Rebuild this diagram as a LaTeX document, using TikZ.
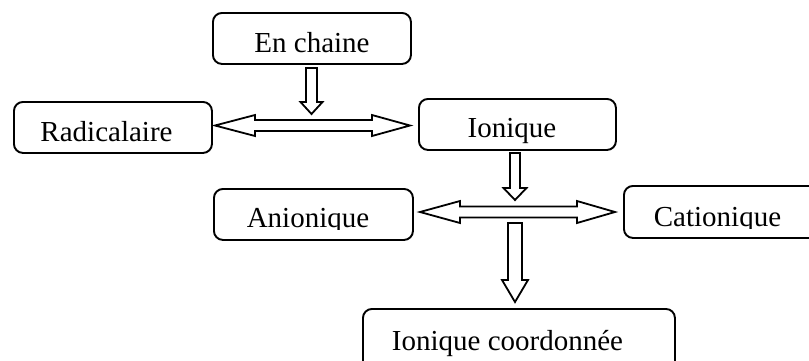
\documentclass[tikz,border=0pt]{standalone}
\usepackage{fontspec}
\setmainfont{Liberation Serif}
\begin{document}
\begin{tikzpicture}[x=1pt,y=-1pt,
  box/.style={draw, line width=1.9pt, rounded corners=9pt, inner sep=0pt, anchor=north west},
  lbl/.style={anchor=base, inner sep=0pt, font=\fontsize{29}{34}\selectfont},
  blockarrow/.style={draw, line width=1.8pt, fill=white, line join=miter}]
\useasboundingbox (0,0) rectangle (809,360);
\clip (0,0) rectangle (809,360);

% boxes
\node[box, minimum width=198pt, minimum height=51pt] (chaine) at (212,12) {};
\node[box, minimum width=198pt, minimum height=51pt] (radical) at (13,101) {};
\node[box, minimum width=197pt, minimum height=51pt] (ionique) at (418,98) {};
\node[box, minimum width=199pt, minimum height=51pt] (anion) at (213,188) {};
\node[box, minimum width=220pt, minimum height=52pt] (cation) at (623,185) {};
\node[box, minimum width=312pt, minimum height=75pt] (coord) at (362,308) {};

% labels
\node[lbl] (tchaine) at (312,52) {En chaine};
\node[lbl] (tradical) at (106.5,141.5) {Radicalaire};
\node[lbl] (tionique) at (512,137) {Ionique};
\begin{scope}
  \clip (213,188) rectangle (412,229);
  \node[lbl] (tanion) at (308,227) {Anionique};
\end{scope}
\begin{scope}
  \clip (623,185) rectangle (809,228);
  \node[lbl] (tcation) at (717.5,226) {Cationique};
\end{scope}
\node[lbl] (tcoord) at (507.5,350) {Ionique coordonnée};

% block arrows
\draw[blockarrow] (306,68) -- (317,68) -- (317,102) -- (322.5,102) -- (311.5,114)
  -- (300.5,102) -- (306,102) -- cycle;
\draw[blockarrow] (215,125.5) -- (255,115) -- (255,120) -- (372,120) -- (372,115)
  -- (410,125.5) -- (372,136) -- (372,131) -- (255,131) -- (255,136) -- cycle;
\draw[blockarrow] (510,153) -- (520,153) -- (520,188) -- (526.5,188) -- (515,200)
  -- (503.5,188) -- (510,188) -- cycle;
\draw[blockarrow] (420,212) -- (460,201) -- (460,206.5) -- (577,206.5) -- (577,201)
  -- (615,212) -- (577,223) -- (577,217.5) -- (460,217.5) -- (460,223) -- cycle;
\draw[blockarrow] (508,223) -- (522,223) -- (522,280) -- (528,280) -- (515,302)
  -- (502,280) -- (508,280) -- cycle;
\end{tikzpicture}
\end{document}
